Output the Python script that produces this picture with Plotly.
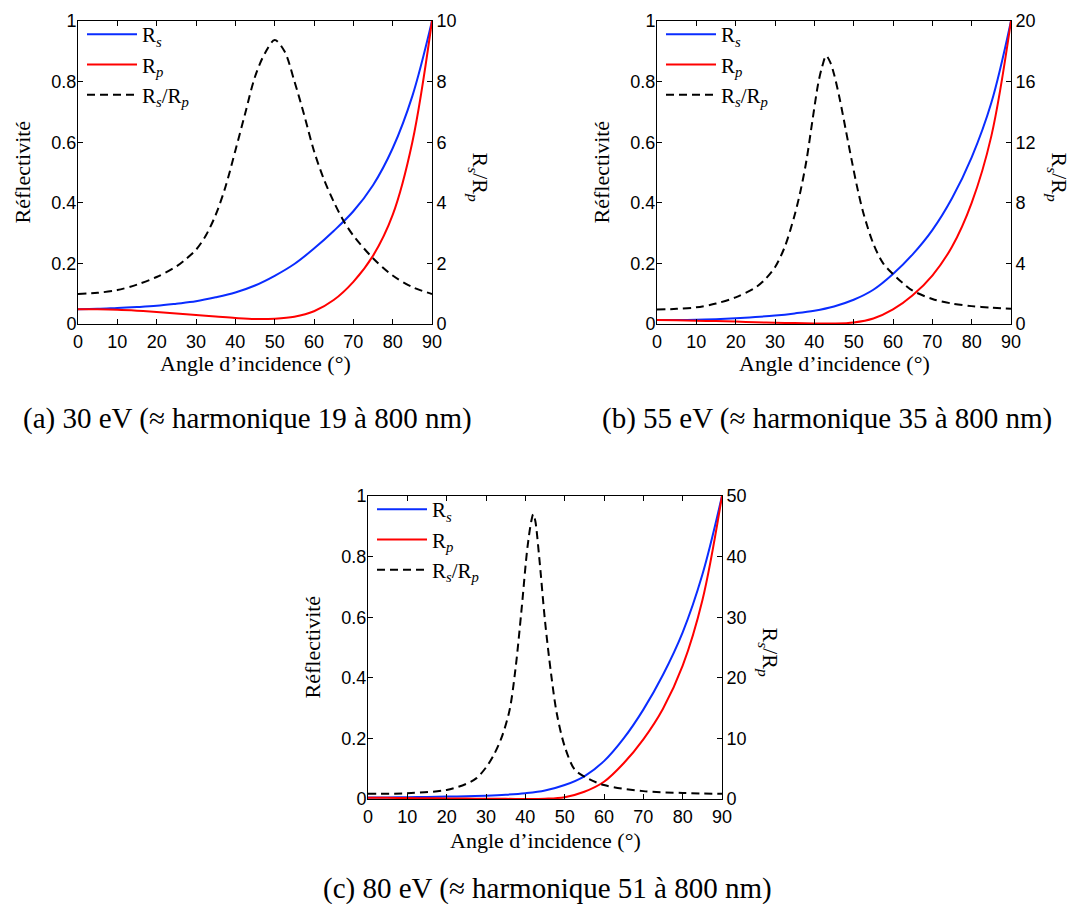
import plotly.graph_objects as go

# ---------------- data ----------------
ang = [0, 5, 10, 15, 20, 25, 30, 35, 40, 45, 50, 55, 60, 65, 70, 75, 80, 85, 90]

# (a) 30 eV
Rs_a = [0.049, 0.050, 0.053, 0.056, 0.060, 0.067, 0.075, 0.088, 0.104, 0.127, 0.159, 0.198, 0.249, 0.307,
        0.372, 0.458, 0.58, 0.752, 1.0]
Rp_a = [0.049, 0.0485, 0.047, 0.044, 0.040, 0.035, 0.030, 0.025, 0.020, 0.0165, 0.0175, 0.024, 0.042, 0.079,
        0.139, 0.225, 0.36, 0.60, 1.0]
rat_a_ang = [0, 5, 10, 15, 20, 25, 27.5, 30, 32.5, 35, 37.5, 40, 42.5, 45, 47.5, 50, 52.5, 55, 57.5, 60,
             62.5, 65, 67.5, 70, 75, 80, 85, 90]
rat_a = [0.99, 1.03, 1.12, 1.3, 1.55, 1.9, 2.15, 2.45, 2.92, 3.6, 4.53, 5.72, 6.95, 8.16, 8.93, 9.37, 9.0,
         8.02, 6.9, 5.71, 4.78, 4.04, 3.41, 2.92, 2.17, 1.6, 1.22, 0.99]

# (b) 55 eV
Rs_b = [0.013, 0.013, 0.014, 0.016, 0.019, 0.023, 0.028, 0.035, 0.044, 0.058, 0.08, 0.113, 0.165, 0.23,
        0.31, 0.415, 0.55, 0.73, 1.0]
Rp_b = [0.013, 0.0125, 0.011, 0.0095, 0.008, 0.006, 0.004, 0.003, 0.002, 0.0015, 0.005, 0.018, 0.048, 0.095,
        0.16, 0.255, 0.40, 0.62, 1.0]
rat_b_ang = [0, 5, 10, 15, 20, 25, 27.5, 30, 32.5, 35, 36.5, 38, 39.5, 41, 42, 43, 44, 45, 46.5, 48, 49.5,
             51, 52.5, 55, 57.5, 60, 62.5, 65, 70, 75, 80, 85, 90]
rat_b = [0.95, 1.0, 1.1, 1.35, 1.76, 2.4, 2.95, 3.75, 5.1, 7.2, 8.8, 10.8, 13.4, 15.9, 17.0, 17.7, 17.3, 16.5,
         14.8, 12.8, 10.8, 8.9, 7.3, 5.3, 4.0, 3.3, 2.7, 2.2, 1.65, 1.35, 1.18, 1.08, 1.0]

# (c) 80 eV
Rs_c = [0.005, 0.005, 0.006, 0.007, 0.008, 0.009, 0.011, 0.014, 0.019, 0.028, 0.046, 0.075, 0.125, 0.2,
        0.295, 0.41, 0.55, 0.74, 1.0]
Rp_c = [0.004, 0.004, 0.003, 0.0025, 0.002, 0.0015, 0.001, 0.0005, 0.0002, 0.001, 0.006, 0.024, 0.057, 0.118,
        0.197, 0.298, 0.44, 0.655, 1.0]
rat_c_ang = [0, 10, 20, 25, 27.5, 30, 32, 34, 36, 37.5, 39, 40.5, 41.5, 42, 42.5, 43.5, 45, 46.5, 48, 50,
             52.5, 55, 60, 70, 80, 90]
rat_c = [0.85, 0.95, 1.5, 2.5, 3.4, 5.2, 7.3, 10.2, 14.7, 21.5, 31.0, 41.3, 45.8, 47.0, 46.0, 40.1, 29.4,
         20.9, 14.1, 8.7, 4.9, 3.7, 2.3, 1.3, 1.0, 0.85]

x_ticks = [0, 10, 20, 30, 40, 50, 60, 70, 80, 90]
refl_ticks = [0, 0.2, 0.4, 0.6, 0.8, 1]
refl_labels = ["0", "0.2", "0.4", "0.6", "0.8", "1"]
ratio_ticks_a = [0, 2, 4, 6, 8, 10]
ratio_ticks_b = [0, 4, 8, 12, 16, 20]
ratio_ticks_c = [0, 10, 20, 30, 40, 50]

captions = ["(a) 30 eV (≈ harmonique 19 à 800 nm)",
            "(b) 55 eV (≈ harmonique 35 à 800 nm)",
            "(c) 80 eV (≈ harmonique 51 à 800 nm)"]
xlabel = "Angle d’incidence (°)"
ylabel_left = "Réflectivité"
ylabel_right = "R<sub><i>s</i></sub>/R<sub><i>p</i></sub>"
names = ["R<sub><i>s</i></sub>", "R<sub><i>p</i></sub>", "R<sub><i>s</i></sub>/R<sub><i>p</i></sub>"]

# ---------------- layout geometry ----------------
# The page body adds an 8px margin, so the figure is made 16px smaller and
# screen-pixel positions are converted to paper fractions with that offset.
OFF = 8
W, H = 1082 - 2 * OFF, 912 - 2 * OFF


def PX(p):
    return (p - OFF) / W


def PY(p):
    return 1 - (p - OFF) / H


SERIF = "Liberation Serif, Times New Roman, serif"
SANS = "Liberation Sans, Arial, Helvetica, sans-serif"
BLUE = "#0a2cff"
RED = "#ff0000"

panels = [
    dict(px=(78, 432), py=(21, 324), Rs=Rs_a, Rp=Rp_a, rx=rat_a_ang, r=rat_a, rt=ratio_ticks_a,
         cap=captions[0], capx=247, capdy=94, xtdy=39),
    dict(px=(657, 1011), py=(21, 324), Rs=Rs_b, Rp=Rp_b, rx=rat_b_ang, r=rat_b, rt=ratio_ticks_b,
         cap=captions[1], capx=827, capdy=94, xtdy=39),
    dict(px=(368, 722), py=(496, 799), Rs=Rs_c, Rp=Rp_c, rx=rat_c_ang, r=rat_c, rt=ratio_ticks_c,
         cap=captions[2], capx=547, capdy=89, xtdy=41),
]

fig = go.Figure()
annotations = []
layout = dict(
    width=W, height=H, margin=dict(l=0, r=0, t=0, b=0, pad=0), autosize=False,
    paper_bgcolor="white", plot_bgcolor="white", showlegend=True,
)

axis_common = dict(showgrid=False, zeroline=False, showline=True, linecolor="black", linewidth=1,
                   ticks="inside", ticklen=5, tickcolor="black", tickwidth=1, automargin=False,
                   tickfont=dict(family=SANS, size=18, color="black"))

for i, p in enumerate(panels):
    xs = "" if i == 0 else str(i + 1)
    yl = "" if i == 0 else str(2 * i + 1)
    yr = str(2 * i + 2)
    xd = [PX(p["px"][0]), PX(p["px"][1])]
    yd = [PY(p["py"][1]), PY(p["py"][0])]
    leg = "legend" if i == 0 else "legend%d" % (i + 1)

    layout["xaxis" + xs] = dict(axis_common, domain=xd, anchor="y" + yl, range=[0, 90],
                                tickvals=x_ticks, mirror="ticks", ticklabelstandoff=1)
    layout["yaxis" + yl] = dict(axis_common, domain=yd, anchor="x" + xs, range=[0, 1],
                                tickvals=refl_ticks, ticktext=refl_labels, mirror=True,
                                ticklabelstandoff=-3)
    layout["yaxis" + yr] = dict(axis_common, overlaying="y" + yl, anchor="x" + xs, side="right",
                                range=[0, p["rt"][-1]], tickvals=p["rt"], ticklabelstandoff=0)

    fig.add_trace(go.Scatter(x=ang, y=p["Rs"], mode="lines", name=names[0], xaxis="x" + xs, yaxis="y" + yl,
                             line=dict(color=BLUE, width=2, shape="spline", smoothing=1.0), legend=leg))
    fig.add_trace(go.Scatter(x=ang, y=p["Rp"], mode="lines", name=names[1], xaxis="x" + xs, yaxis="y" + yl,
                             line=dict(color=RED, width=2, shape="spline", smoothing=1.0), legend=leg))
    fig.add_trace(go.Scatter(x=p["rx"], y=p["r"], mode="lines", name=names[2], xaxis="x" + xs, yaxis="y" + yr,
                             line=dict(color="black", width=2, dash="8px,5px", shape="spline", smoothing=0.9),
                             legend=leg))

    layout[leg] = dict(x=PX(p["px"][0] + 4), y=PY(p["py"][0] - 7), xanchor="left", yanchor="top",
                       bgcolor="rgba(0,0,0,0)", font=dict(family=SERIF, size=21, color="black"),
                       tracegroupgap=0, itemwidth=50)

    cx = (p["px"][0] + p["px"][1]) / 2
    cy = (p["py"][0] + p["py"][1]) / 2
    # x axis title
    annotations.append(dict(text=xlabel, x=PX(cx), y=PY(p["py"][1] + p["xtdy"]), xref="paper",
                            yref="paper", showarrow=False, xanchor="center", yanchor="middle",
                            font=dict(family=SERIF, size=22, color="black")))
    # left title
    annotations.append(dict(text=ylabel_left, x=PX(p["px"][0] - 56), y=PY(cy), xref="paper", yref="paper",
                            showarrow=False, textangle=-90, xanchor="center", yanchor="middle",
                            font=dict(family=SERIF, size=22, color="black")))
    # right title
    annotations.append(dict(text=ylabel_right, x=PX(p["px"][1] + 47), y=PY(cy + 4), xref="paper",
                            yref="paper", showarrow=False, textangle=90, xanchor="center", yanchor="middle",
                            font=dict(family=SERIF, size=22, color="black")))
    # caption
    annotations.append(dict(text=p["cap"], x=PX(p["capx"]), y=PY(p["py"][1] + p["capdy"]), xref="paper",
                            yref="paper", showarrow=False, xanchor="center", yanchor="middle",
                            font=dict(family=SERIF, size=29, color="black")))

layout["annotations"] = annotations
fig.update_layout(**layout)
fig.write_html("out.html")
